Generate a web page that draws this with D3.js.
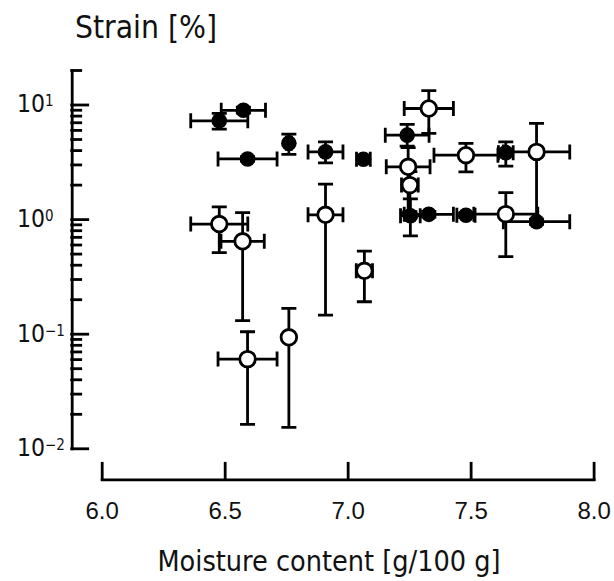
<!DOCTYPE html>
<html>
<head>
<meta charset="utf-8">
<script src="https://cdn.jsdelivr.net/npm/d3@7"></script>
<style>
  html, body { margin: 0; padding: 0; background: #fff; }
  svg { display: block; font-family: "DejaVu Sans Condensed", "DejaVu Sans", sans-serif; }
</style>
</head>
<body>
<div id="chart"></div>
<script>
// moisture content [g/100 g] and strain [%]
const filledMoisture = [6.478, 6.576, 6.593, 6.761, 6.910, 7.064, 7.242, 7.255, 7.330, 7.481, 7.643, 7.768];
const filledMoistureErr = [0.116, 0.09, 0.12, 0.01, 0.071, 0.028, 0.089, 0.04, 0.10, 0.037, 0.03, 0.135];
const filledStrain = [7.2, 8.9, 3.35, 4.6, 3.86, 3.33, 5.4, 1.07, 1.10, 1.08, 3.8, 0.95];
const filledStrainLow = [6.1, 8.4, 3.2, 3.67, 3.1, 3.2, 4.33, 0.715, 1.04, 1.03, 2.9, 0.9];
const filledStrainHigh = [8.35, 9.5, 3.5, 5.51, 4.72, 3.45, 6.7, 1.5, 1.17, 1.13, 4.72, 1.0];

const openMoisture = [6.478, 6.573, 6.593, 6.761, 6.910, 7.068, 7.246, 7.253, 7.330, 7.481, 7.643, 7.768];
const openMoistureErr = [0.116, 0.088, 0.12, 0.01, 0.071, 0.033, 0.089, 0.034, 0.10, 0.13, 0.13, 0.135];
const openStrain = [0.905, 0.64, 0.060, 0.093, 1.09, 0.354, 2.86, 1.98, 9.23, 3.61, 1.105, 3.86];
const openStrainLow = [0.51, 0.13, 0.0162, 0.0152, 0.145, 0.19, 1.13, 1.16, 5.6, 2.58, 0.47, 0.97];
const openStrainHigh = [1.28, 1.14, 0.104, 0.166, 2.02, 0.526, 4.2, 2.6, 13.2, 4.57, 1.70, 6.83];

const xTicks = [6.0, 6.5, 7.0, 7.5, 8.0];
const yMajorTicks = [0.01, 0.1, 1, 10];
const yTickExponents = ["\u22122", "\u22121", "0", "1"];

const width = 614;
const height = 581;
const ink = "#000";
const lineW = 2.8;

const svg = d3.select("#chart").append("svg").attr("width", width).attr("height", height);

const x = d3.scaleLinear().domain([6, 8]).range([101.7, 593.6]);
const y = d3.scaleLog().domain([0.01, 20]).range([448.3, 70]);
const yAxisX = 71.7;
const xAxisY = 479.3;

function pack(xs, xe, ys, lo, hi) {
  return xs.map((v, i) => ({ x: v, xe: xe[i], y: ys[i], lo: lo[i], hi: hi[i] }));
}
const filled = pack(filledMoisture, filledMoistureErr, filledStrain, filledStrainLow, filledStrainHigh);
const open = pack(openMoisture, openMoistureErr, openStrain, openStrainLow, openStrainHigh);

// y axis: minor ticks, then majors, all pointing inward
const minor = y.ticks().filter((t) => !yMajorTicks.includes(t));
svg.append("g").attr("transform", `translate(${yAxisX},0)`)
  .call(d3.axisRight(y).tickValues(minor).tickSizeInner(9).tickSizeOuter(0).tickFormat(""));
const yMajor = svg.append("g").attr("transform", `translate(${yAxisX},0)`)
  .call(d3.axisRight(y).tickValues(yMajorTicks).tickSizeInner(16).tickSizeOuter(0).tickFormat(""));
yMajor.select(".domain").remove();

const xAxis = svg.append("g").attr("transform", `translate(0,${xAxisY})`)
  .call(d3.axisBottom(x).tickValues(xTicks).tickSizeInner(-16).tickSizeOuter(0).tickPadding(23).tickFormat(d3.format(".1f")));

svg.selectAll(".domain, .tick line").attr("stroke", ink).attr("stroke-width", lineW).attr("stroke-linecap", "square");
xAxis.selectAll("text").attr("font-size", 24).attr("fill", "#111").attr("font-family", null);

// y tick labels with superscript powers
const yLabels = svg.append("g").selectAll("text").data(yMajorTicks).enter().append("text")
  .attr("x", 17)
  .attr("y", (d) => y(d) + 8)
  .attr("font-size", 24.5)
  .attr("fill", "#111");
yLabels.append("tspan").text("10");
yLabels.append("tspan").attr("dy", -6).attr("font-size", 15).text((d, i) => yTickExponents[i]);

svg.append("text").attr("x", 75).attr("y", 38).attr("font-size", 31.5).attr("fill", "#111").text("Strain [%]");
svg.append("text").attr("x", 329).attr("y", 571).attr("text-anchor", "middle").attr("font-size", 28.5).attr("fill", "#111")
  .text("Moisture content [g/100 g]");

function drawErrors(data) {
  const g = svg.append("g").attr("stroke", ink).attr("stroke-width", lineW).attr("fill", "none");
  const cap = 7.5;
  data.forEach((d) => {
    const cx = x(d.x);
    const cy = y(d.y);
    const x0 = x(d.x - d.xe);
    const x1 = x(d.x + d.xe);
    const y0 = y(d.lo);
    const y1 = y(d.hi);
    g.append("path").attr("d",
      `M${x0},${cy}H${x1}M${x0},${cy - cap}V${cy + cap}M${x1},${cy - cap}V${cy + cap}` +
      `M${cx},${y0}V${y1}M${cx - cap},${y0}H${cx + cap}M${cx - cap},${y1}H${cx + cap}`);
  });
}

drawErrors(filled);
drawErrors(open);

svg.append("g").selectAll("circle").data(filled).enter().append("circle")
  .attr("cx", (d) => x(d.x))
  .attr("cy", (d) => y(d.y))
  .attr("r", 7.8)
  .attr("fill", ink);

svg.append("g").selectAll("circle").data(open).enter().append("circle")
  .attr("cx", (d) => x(d.x))
  .attr("cy", (d) => y(d.y))
  .attr("r", 7.8)
  .attr("fill", "#fff")
  .attr("stroke", ink)
  .attr("stroke-width", lineW);
</script>
</body>
</html>
